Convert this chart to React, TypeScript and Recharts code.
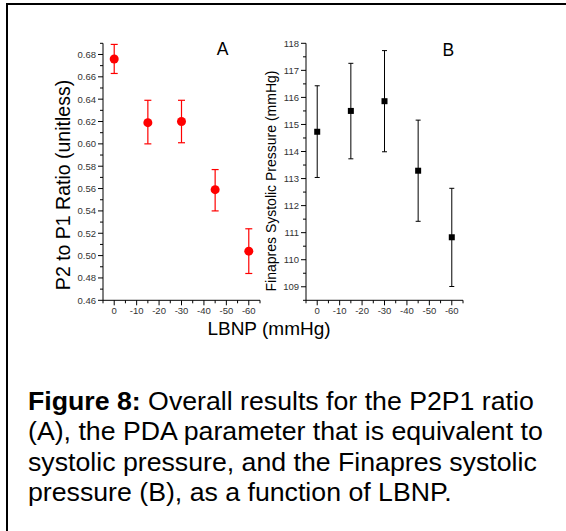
import React from 'react';
import { ScatterChart, Scatter, XAxis, YAxis, ErrorBar } from 'recharts';

// LBNP levels (mmHg)
const lbnp = [0, -15, -30, -45, -60];

// Panel A: P2 to P1 ratio
const ratioMean = [0.676, 0.619, 0.62, 0.559, 0.504];
const ratioUpper = [0.689, 0.639, 0.639, 0.577, 0.524];
const ratioLower = [0.663, 0.6, 0.601, 0.54, 0.484];

// Panel B: Finapres systolic pressure (mmHg)
const sbpMean = [114.73, 115.5, 115.86, 113.29, 110.83];
const sbpUpper = [116.43, 117.26, 117.73, 115.16, 112.64];
const sbpLower = [113.04, 113.73, 113.99, 111.42, 109.01];

// Tick values (major + minor)
const xTicks = [5, 0, -5, -10, -15, -20, -25, -30, -35, -40, -45, -50, -55, -60, -65];
const ratioTicks = [
  0.46, 0.47, 0.48, 0.49, 0.5, 0.51, 0.52, 0.53, 0.54, 0.55, 0.56, 0.57,
  0.58, 0.59, 0.6, 0.61, 0.62, 0.63, 0.64, 0.65, 0.66, 0.67, 0.68, 0.69,
];
const sbpTicks = [
  108.5, 109, 109.5, 110, 110.5, 111, 111.5, 112, 112.5, 113, 113.5, 114,
  114.5, 115, 115.5, 116, 116.5, 117, 117.5, 118,
];

const captionLines = [
  ['Figure 8:', ' Overall results for the P2P1 ratio'],
  ['', '(A), the PDA parameter that is equivalent to'],
  ['', 'systolic pressure, and the Finapres systolic'],
  ['', 'pressure (B), as a function of LBNP.'],
];

const FONT = '"Liberation Sans", Arial, Helvetica, sans-serif';

const buildRows = (mean: number[], upper: number[], lower: number[]) =>
  lbnp.map((x, i) => ({
    x,
    y: mean[i],
    err: [mean[i] - lower[i], upper[i] - mean[i]],
  }));

const ratioRows = buildRows(ratioMean, ratioUpper, ratioLower);
const sbpRows = buildRows(sbpMean, sbpUpper, sbpLower);

const XTick = (props: any) => {
  const { x, y, payload } = props;
  const v = payload.value;
  const major = Math.round(v) % 10 === 0;
  return (
    <g>
      <line x1={x} y1={y} x2={x} y2={y + (major ? 5 : 3)} stroke="#000" strokeWidth={1} />
      {major && (
        <text x={x} y={y + 7} dy="0.71em" textAnchor="middle" fontSize={9.5} fill="#333" fontFamily={FONT}>
          {String(v)}
        </text>
      )}
    </g>
  );
};

const makeYTick = (isMajor: (v: number) => boolean, fmt: (v: number) => string) => (props: any) => {
  const { x, y, payload } = props;
  const v = payload.value;
  const major = isMajor(v);
  return (
    <g>
      <line x1={x} y1={y} x2={x - (major ? 5 : 3)} y2={y} stroke="#000" strokeWidth={1} />
      {major && (
        <text x={x - 7} y={y} dy="0.355em" textAnchor="end" fontSize={9.5} fill="#333" fontFamily={FONT}>
          {fmt(v)}
        </text>
      )}
    </g>
  );
};

const RatioTick = makeYTick(
  (v) => Math.round(v * 100) % 2 === 0,
  (v) => v.toFixed(2)
);
const SbpTick = makeYTick(
  (v) => Math.abs(v - Math.round(v)) < 1e-6,
  (v) => String(Math.round(v))
);

const RedDot = (p: any) => <circle cx={p.cx} cy={p.cy} r={4.5} fill="#ff0000" />;
const BlackSquare = (p: any) => <rect x={p.cx - 3} y={p.cy - 3} width={6} height={6} fill="#000" />;

export default function App() {
  return (
    <div style={{ position: 'absolute', left: 0, top: 0, width: 566, height: 531, overflow: 'hidden', background: '#fff' }}>
      <div
        style={{
          position: 'absolute',
          left: 6,
          top: 3,
          width: 566,
          height: 531,
          borderLeft: '2px solid #000',
          borderTop: '2px solid #000',
        }}
      />
      <div style={{ position: 'absolute', left: 0, top: 0 }}>
        <ScatterChart width={270} height={340} margin={{ top: 43.3, right: 10, bottom: 9.7, left: 0 }}>
          <XAxis
            type="number"
            dataKey="x"
            domain={[-65, 5]}
            reversed
            ticks={xTicks}
            interval={0}
            tickSize={0}
            tickMargin={0}
            tickLine={false}
            tick={XTick}
            axisLine={{ stroke: '#000', strokeWidth: 1 }}
            height={30}
            allowDataOverflow
          />
          <YAxis
            type="number"
            dataKey="y"
            domain={[0.46, 0.69]}
            ticks={ratioTicks}
            interval={0}
            tickSize={0}
            tickMargin={0}
            tickLine={false}
            tick={RatioTick}
            axisLine={{ stroke: '#000', strokeWidth: 1 }}
            width={103}
            allowDataOverflow
          />
          <Scatter data={ratioRows} shape={RedDot} isAnimationActive={false}>
            <ErrorBar dataKey="err" direction="y" width={3.5} stroke="#ff0000" strokeWidth={1.2} isAnimationActive={false} />
          </Scatter>
        </ScatterChart>
      </div>
      <div style={{ position: 'absolute', left: 200, top: 0 }}>
        <ScatterChart width={273} height={340} margin={{ top: 43.3, right: 10, bottom: 9.7, left: 0 }}>
          <XAxis
            type="number"
            dataKey="x"
            domain={[-65, 5]}
            reversed
            ticks={xTicks}
            interval={0}
            tickSize={0}
            tickMargin={0}
            tickLine={false}
            tick={XTick}
            axisLine={{ stroke: '#000', strokeWidth: 1 }}
            height={30}
            allowDataOverflow
          />
          <YAxis
            type="number"
            dataKey="y"
            domain={[108.5, 118]}
            ticks={sbpTicks}
            interval={0}
            tickSize={0}
            tickMargin={0}
            tickLine={false}
            tick={SbpTick}
            axisLine={{ stroke: '#000', strokeWidth: 1 }}
            width={106}
            allowDataOverflow
          />
          <Scatter data={sbpRows} shape={BlackSquare} isAnimationActive={false}>
            <ErrorBar dataKey="err" direction="y" width={2.5} stroke="#000" strokeWidth={1} isAnimationActive={false} />
          </Scatter>
        </ScatterChart>
      </div>
      <svg
        width={566}
        height={531}
        style={{ position: 'absolute', left: 0, top: 0, pointerEvents: 'none' }}
        fontFamily={FONT}
      >
        <text x={222.7} y={55} textAnchor="middle" fontSize={17.5} fill="#000">A</text>
        <text x={448.3} y={55.5} textAnchor="middle" fontSize={17.5} fill="#000">B</text>
        <text x={269} y={335} textAnchor="middle" fontSize={19} fill="#000">LBNP (mmHg)</text>
        <text x={70} y={185} transform="rotate(-90 70 185)" textAnchor="middle" fontSize={19.5} fill="#000">
          P2 to P1 Ratio (unitless)
        </text>
        <text x={275.5} y={181} transform="rotate(-90 275.5 181)" textAnchor="middle" fontSize={14} fill="#000">
          Finapres Systolic Pressure (mmHg)
        </text>
        {captionLines.map((ln, i) => (
          <text key={i} x={28} y={410 + i * 30.35} fontSize={26.7} fill="#000">
            {ln[0] && <tspan fontWeight="bold">{ln[0]}</tspan>}
            <tspan>{ln[1]}</tspan>
          </text>
        ))}
      </svg>
    </div>
  );
}
